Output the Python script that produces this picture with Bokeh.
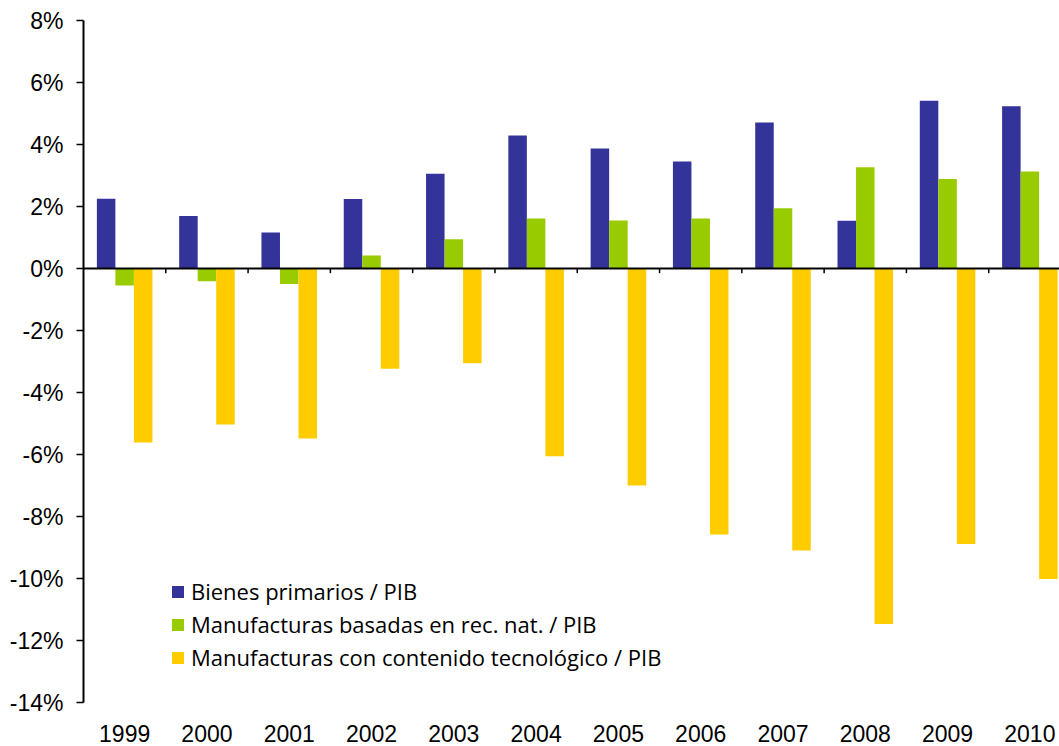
import numpy as np
from bokeh.plotting import figure
from bokeh.models import ColumnDataSource, Range1d, FixedTicker, Span, Legend, LegendItem
from bokeh.transform import dodge
from bokeh.embed import file_html
from bokeh.resources import INLINE

years = ["1999", "2000", "2001", "2002", "2003", "2004", "2005", "2006", "2007", "2008", "2009", "2010"]
bienes_primarios = [2.25, 1.69, 1.16, 2.24, 3.06, 4.29, 3.87, 3.45, 4.71, 1.54, 5.41, 5.23]
manuf_rec_nat = [-0.55, -0.41, -0.50, 0.42, 0.94, 1.61, 1.55, 1.61, 1.94, 3.27, 2.89, 3.13]
manuf_tecno = [-5.61, -5.03, -5.48, -3.23, -3.06, -6.06, -7.00, -8.58, -9.10, -11.47, -8.89, -10.02]
y_ticks = [-14, -12, -10, -8, -6, -4, -2, 0, 2, 4, 6, 8]
series_labels = ["Bienes primarios / PIB",
                 "Manufacturas basadas en rec. nat. / PIB",
                 "Manufacturas con contenido tecnológico / PIB"]
colors = ["#333399", "#99CC00", "#FFCC00"]

centers = np.arange(len(years)) + 0.5
bw = 0.225
src = ColumnDataSource(dict(x=centers, b=bienes_primarios, m=manuf_rec_nat, t=manuf_tecno))

p = figure(width=1059, height=746, output_backend="svg", toolbar_location=None,
           x_range=Range1d(0, 11.86), y_range=Range1d(-14, 8),
           min_border_left=83, min_border_right=0, min_border_top=20, min_border_bottom=44)
p.background_fill_color = "white"
p.border_fill_color = "white"
p.outline_line_color = None
p.grid.grid_line_color = None

r1 = p.vbar(x=dodge("x", -bw, range=p.x_range), top="b", bottom=0, width=bw, source=src,
            fill_color=colors[0], line_color=None)
r2 = p.vbar(x="x", top="m", bottom=0, width=bw, source=src, fill_color=colors[1], line_color=None)
r3 = p.vbar(x=dodge("x", bw, range=p.x_range), top="t", bottom=0, width=bw, source=src,
            fill_color=colors[2], line_color=None)

# zero line
p.add_layout(Span(location=0, dimension="width", line_color="black", line_width=2))
# category boundary tick marks on the zero line
bounds = np.arange(1, len(years) + 1)
p.segment(x0=bounds, y0=[0] * len(bounds), x1=bounds, y1=[-0.15] * len(bounds),
          line_color="black", line_width=1.5)

# y axis
ya = p.yaxis[0]
ya.ticker = FixedTicker(ticks=y_ticks, minor_ticks=[])
ya.major_label_overrides = {v: f"{v}%" for v in y_ticks}
ya.axis_line_color = "black"
ya.axis_line_width = 2
ya.major_tick_line_color = "black"
ya.major_tick_line_width = 1.5
ya.major_tick_out = 7
ya.major_tick_in = 0
ya.major_label_standoff = 13
ya.major_label_text_font = "Liberation Sans"
ya.major_label_text_font_size = "23px"
ya.major_label_text_color = "black"

# x axis
xa = p.xaxis[0]
xa.ticker = FixedTicker(ticks=list(centers), minor_ticks=[])
xa.major_label_overrides = {float(c): y for c, y in zip(centers, years)}
xa.axis_line_color = None
xa.major_tick_line_color = None
xa.minor_tick_line_color = None
xa.major_label_standoff = 16
xa.major_label_text_font = "Liberation Sans"
xa.major_label_text_font_size = "23px"
xa.major_label_text_color = "black"

legend = Legend(items=[LegendItem(label=series_labels[0], renderers=[r1]),
                       LegendItem(label=series_labels[1], renderers=[r2]),
                       LegendItem(label=series_labels[2], renderers=[r3])],
                location=(87, 30), orientation="vertical")
legend.border_line_color = None
legend.background_fill_alpha = 0
legend.padding = 0
legend.margin = 0
legend.spacing = 3
legend.glyph_width = 15
legend.glyph_height = 15
legend.label_height = 22
legend.label_standoff = 6
legend.label_text_font = "Open Sans"
legend.label_text_font_size = "22px"
legend.label_text_color = "black"
p.add_layout(legend)

open("out.html", "w").write(file_html(p, INLINE))
